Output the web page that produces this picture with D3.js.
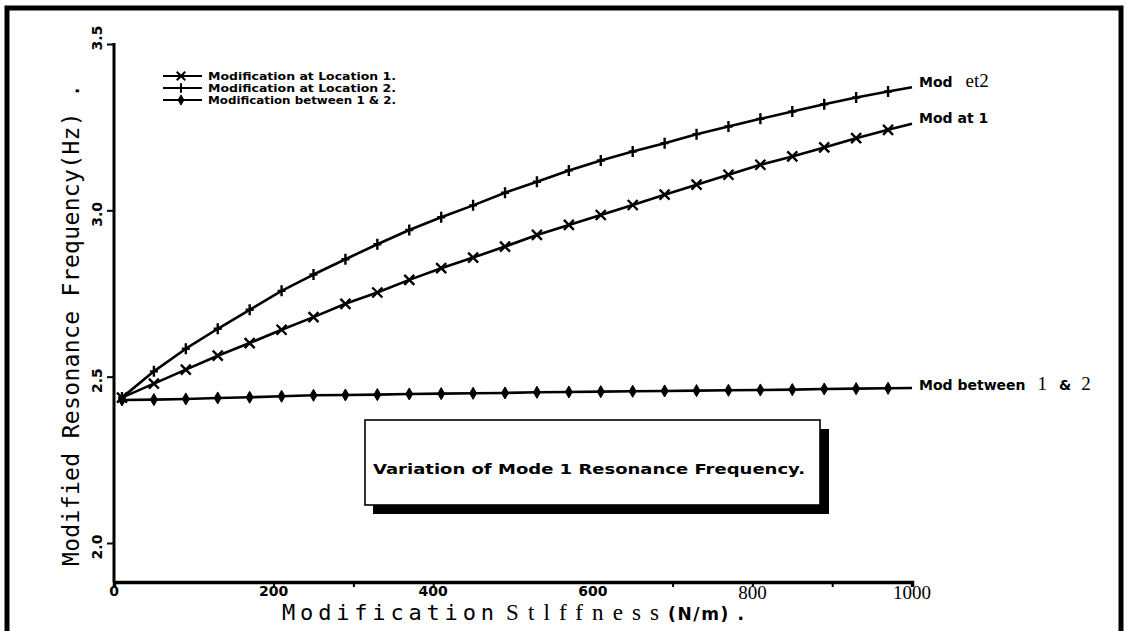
<!DOCTYPE html>
<html>
<head>
<meta charset="utf-8">
<script src="https://cdn.jsdelivr.net/npm/d3@7"></script>
<style>
  html, body { margin: 0; padding: 0; background: #fff; }
  svg { display: block; }
</style>
</head>
<body>
<svg id="chart" width="1127" height="631"></svg>
<script>
// Modification stiffness (N/m) at which the frequency was computed
const stiffness = [10, 50, 90, 130, 170, 210, 250, 290, 330, 370, 410, 450, 490,
                   530, 570, 610, 650, 690, 730, 770, 810, 850, 890, 930, 970, 1000];

// Mode 1 resonance frequency (Hz) for each modification case
const freqLocation1 = [2.437, 2.479, 2.521, 2.563, 2.601, 2.641, 2.679, 2.719, 2.753,
                       2.791, 2.826, 2.858, 2.891, 2.926, 2.956, 2.986, 3.016, 3.047,
                       3.077, 3.107, 3.137, 3.162, 3.189, 3.217, 3.242, 3.260];
const freqLocation2 = [2.437, 2.516, 2.584, 2.644, 2.701, 2.758, 2.807, 2.853, 2.898,
                       2.941, 2.979, 3.015, 3.053, 3.086, 3.120, 3.150, 3.177, 3.202,
                       3.229, 3.252, 3.275, 3.297, 3.319, 3.339, 3.357, 3.370];
const freqBetween   = [2.430, 2.431, 2.433, 2.436, 2.438, 2.441, 2.444, 2.445, 2.446,
                       2.448, 2.449, 2.450, 2.451, 2.453, 2.454, 2.455, 2.456, 2.457,
                       2.458, 2.459, 2.460, 2.461, 2.463, 2.464, 2.465, 2.466];

const legendLabels = ["Modification at Location 1.", "Modification at Location 2.",
                      "Modification between 1 & 2."];

const xTickLabels = [0, 200, 400, 600, 800, 1000];
const xTickMarks  = [200, 300, 400, 700, 800, 900, 1000];
const yTickValues = [2.0, 2.5, 3.0, 3.5];

const BOLD  = "'DejaVu Sans', sans-serif";
const MONO  = "'DejaVu Sans Mono', monospace";
const SERIF = "'Liberation Serif', 'DejaVu Serif', serif";

const svg = d3.select("#chart");

// page frame
svg.append("path")
  .attr("d", "M7,631V8H1121V631")
  .attr("fill", "none").attr("stroke", "#000").attr("stroke-width", 5);

const x = d3.scaleLinear().domain([0, 1000]).range([114, 912]);
const y = d3.scaleLinear().domain([2.0, 3.5]).range([543, 44]);
const baseY = 582;

// ---- axes ----
const xAxisG = svg.append("g").attr("transform", `translate(0,${baseY})`);
xAxisG.call(d3.axisBottom(x).tickValues(xTickMarks).tickFormat("").tickSizeOuter(0).tickSize(5));
xAxisG.select(".domain").attr("stroke-width", 3.5);
xAxisG.selectAll(".tick line").attr("stroke-width", 2);

xAxisG.selectAll(".lbl").data(xTickLabels).enter().append("text")
  .attr("class", "lbl")
  .attr("x", d => x(d))
  .attr("y", d => d >= 800 ? 17 : 14)
  .attr("text-anchor", "middle")
  .attr("fill", "#000")
  .attr("font-family", d => d >= 800 ? SERIF : BOLD)
  .attr("font-weight", d => d >= 800 ? "normal" : "bold")
  .attr("font-size", d => d >= 800 ? 19 : 14)
  .text(d => d);

const yAxisG = svg.append("g").attr("transform", `translate(${x(0)},0)`);
yAxisG.call(d3.axisLeft(y).tickValues(yTickValues).tickFormat("").tickSizeOuter(0).tickSize(7));
yAxisG.select(".domain").remove();
yAxisG.selectAll(".tick line").attr("stroke-width", 2);
yAxisG.append("line")
  .attr("x1", 0).attr("x2", 0).attr("y1", y(3.5) - 1).attr("y2", baseY)
  .attr("stroke", "#000").attr("stroke-width", 3);

yAxisG.selectAll(".lbl").data(yTickValues).enter().append("text")
  .attr("class", "lbl")
  .attr("transform", d => `translate(-17,${y(d) + (d === 3.5 ? -6 : 4)}) rotate(-90)`)
  .attr("text-anchor", "middle")
  .attr("dominant-baseline", "central")
  .attr("fill", "#000")
  .attr("font-family", BOLD).attr("font-weight", "bold").attr("font-size", 14)
  .text(d => d.toFixed(1));

// axis titles
svg.append("text")
  .attr("transform", "translate(71,325) rotate(-90)")
  .attr("text-anchor", "middle")
  .attr("dominant-baseline", "central")
  .attr("font-family", MONO).attr("font-size", 23)
  .attr("textLength", 482).attr("lengthAdjust", "spacing")
  .text("Modified Resonance Frequency(Hz) .");

const xTitleY = 620;
svg.append("text").attr("x", 282).attr("y", xTitleY)
  .attr("font-family", MONO).attr("font-size", 22)
  .attr("textLength", 212).attr("lengthAdjust", "spacing")
  .text("Modification");
svg.append("text").attr("x", 506).attr("y", xTitleY)
  .attr("font-family", SERIF).attr("font-size", 23)
  .attr("textLength", 153).attr("lengthAdjust", "spacing")
  .text("Stlffness");
svg.append("text").attr("x", 668).attr("y", xTitleY)
  .attr("font-family", BOLD).attr("font-weight", "bold").attr("font-size", 17)
  .attr("textLength", 76).attr("lengthAdjust", "spacing")
  .text("(N/m) .");

// ---- series ----
const markers = {
  cross: "M-5,-5L5,5M-5,5L5,-5",
  plus: "M0,-5.5V5.5M-4,0H4",
  diamond: d3.symbol(d3.symbolDiamond, 42)()
};

const series = [
  { values: freqLocation1, marker: "cross" },
  { values: freqLocation2, marker: "plus" },
  { values: freqBetween,   marker: "diamond" }
];

const line = d3.line().x(d => x(d[0])).y(d => y(d[1]));

series.forEach(s => {
  const pts = stiffness.map((k, i) => [k, s.values[i]]);
  svg.append("path").datum(pts)
    .attr("d", line)
    .attr("fill", "none").attr("stroke", "#000").attr("stroke-width", 2.6)
    .attr("stroke-linejoin", "round");
  // markers sit on every computed point except the final end point
  svg.append("g").selectAll("path").data(pts.slice(0, -1)).enter().append("path")
    .attr("transform", d => `translate(${x(d[0])},${y(d[1])})`)
    .attr("d", markers[s.marker])
    .attr("fill", s.marker === "diamond" ? "#000" : "none")
    .attr("stroke", "#000")
    .attr("stroke-width", s.marker === "diamond" ? 1 : 2.4);
});

// ---- legend ----
const legendY = [76, 88, 100];
const lg = svg.append("g");
series.forEach((s, i) => {
  lg.append("line").attr("x1", 163).attr("x2", 202)
    .attr("y1", legendY[i]).attr("y2", legendY[i])
    .attr("stroke", "#000").attr("stroke-width", 2.2);
  lg.append("path").attr("transform", `translate(181,${legendY[i]}) scale(0.85)`)
    .attr("d", markers[s.marker])
    .attr("fill", s.marker === "diamond" ? "#000" : "none")
    .attr("stroke", "#000").attr("stroke-width", s.marker === "diamond" ? 1 : 2.4);
  lg.append("text").attr("x", 208).attr("y", legendY[i] + 4)
    .attr("font-family", BOLD).attr("font-weight", "bold").attr("font-size", 11)
    .attr("textLength", 188).attr("lengthAdjust", "spacingAndGlyphs")
    .text(legendLabels[i]);
});

// ---- end-of-line labels ----
function endLabel(parts, yPos) {
  const t = svg.append("text").attr("x", 919).attr("y", yPos);
  parts.forEach(p => {
    t.append("tspan")
      .attr("font-family", p.serif ? SERIF : BOLD)
      .attr("font-weight", p.serif ? "normal" : "bold")
      .attr("font-size", p.serif ? 19 : 14)
      .attr("dx", p.dx || 0)
      .text(p.t);
  });
}
endLabel([{ t: "Mod" }, { t: "et2", serif: true, dx: 13 }], y(3.37) + 0);
endLabel([{ t: "Mod at 1" }], y(3.26) - 1);
endLabel([{ t: "Mod between" }, { t: "1", serif: true, dx: 12 }, { t: "&", dx: 12 },
          { t: "2", serif: true, dx: 10 }], y(2.466) + 2);

// ---- caption box with drop shadow ----
svg.append("rect").attr("x", 373).attr("y", 429).attr("width", 456).attr("height", 85)
  .attr("fill", "#000");
svg.append("rect").attr("x", 365).attr("y", 420).attr("width", 455).attr("height", 85)
  .attr("fill", "#fff").attr("stroke", "#000").attr("stroke-width", 1.6);
svg.append("text").attr("x", 373).attr("y", 474)
  .attr("font-family", BOLD).attr("font-weight", "bold").attr("font-size", 13.5)
  .attr("textLength", 432).attr("lengthAdjust", "spacingAndGlyphs")
  .text("Variation of Mode 1 Resonance Frequency.");
</script>
</body>
</html>
